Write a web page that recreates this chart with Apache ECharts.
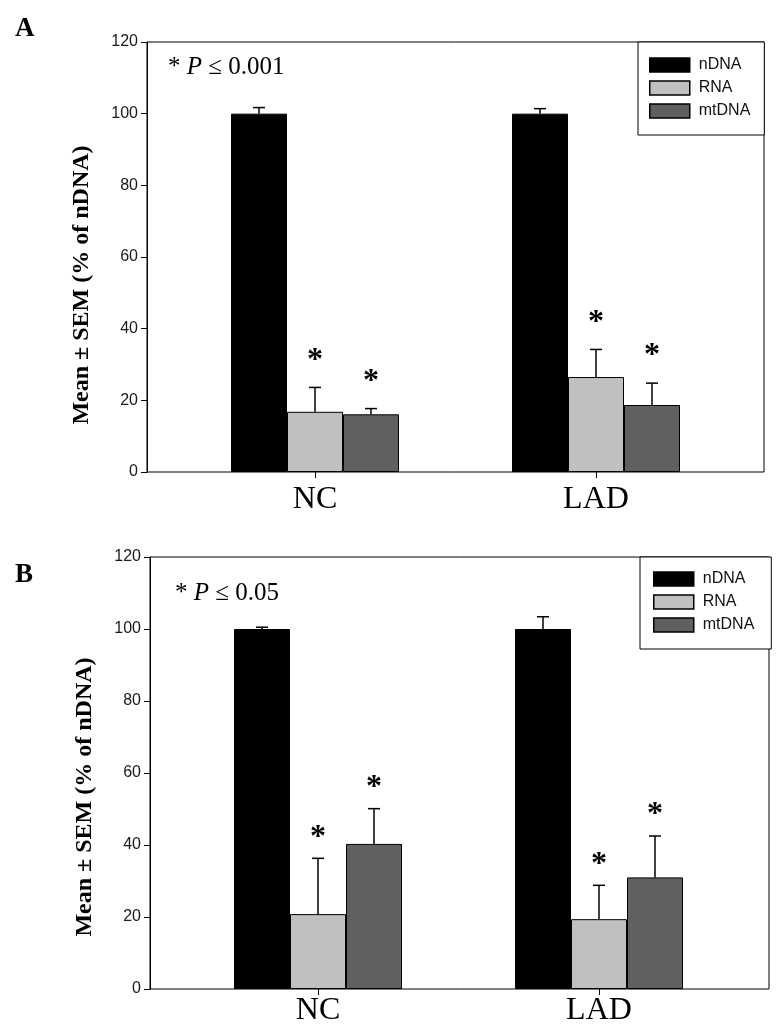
<!DOCTYPE html>
<html>
<head>
<meta charset="utf-8">
<script src="https://cdn.jsdelivr.net/npm/echarts@6/dist/echarts.min.js"></script>
<style>
  html, body { margin: 0; padding: 0; background: #fff; }
  #chart { width: 782px; height: 1033px; }
</style>
</head>
<body>
<div id="chart"></div>
<script>
// ---- data ----
const categories = ['NC', 'LAD'];
const seriesNames = ['nDNA', 'RNA', 'mtDNA'];
const yMin = 0, yMax = 120, yInterval = 20;

// Panel A
const meanA_nDNA = [100, 100];
const errA_nDNA = [1.7, 1.4];
const meanA_RNA = [16.8, 26.5];
const errA_RNA = [6.8, 7.7];
const meanA_mtDNA = [16.1, 18.7];
const errA_mtDNA = [1.6, 6.1];
const sigA = [false, true, true]; // per series: star above bars

// Panel B
const meanB_nDNA = [100, 100];
const errB_nDNA = [0.5, 3.4];
const meanB_RNA = [20.8, 19.4];
const errB_RNA = [15.5, 9.4];
const meanB_mtDNA = [40.3, 31.0];
const errB_mtDNA = [9.8, 11.5];
const sigB = [false, true, true];

const titleA = 'A', titleB = 'B';
const pTextA = '0.001', pTextB = '0.05';
const yAxisTitle = 'Mean \u00B1 SEM (% of nDNA)';

// ---- layout / style ----
const colors = ['#000000', '#c0c0c0', '#606060'];
const BW = 56;
const SERIF = "'Liberation Serif', 'Times New Roman', serif";
const SANS = "'Liberation Sans', Arial, sans-serif";

const panels = [
  {
    means: [meanA_nDNA, meanA_RNA, meanA_mtDNA],
    errs: [errA_nDNA, errA_RNA, errA_mtDNA],
    sig: sigA,
    frame: { left: 147, right: 18, top: 42, height: 430 },
    bars: { left: 174.5, width: 562, top: 42, height: 430 },
    labelMargin: 12, starGap: 32,
    legend: { left: 638, top: 42, padding: [15, 14, 16, 11] },
    title: titleA, titleTop: 16, p: pTextA, pLeft: 168, pTop: 55,
    yLabel: [82, 285]
  },
  {
    means: [meanB_nDNA, meanB_RNA, meanB_mtDNA],
    errs: [errB_nDNA, errB_RNA, errB_mtDNA],
    sig: sigB,
    frame: { left: 150, right: 13, top: 557, height: 432 },
    bars: { left: 177.5, width: 562, top: 557, height: 432 },
    labelMargin: 6, starGap: 26,
    legend: { left: 640, top: 557, padding: [14, 17, 16, 13] },
    title: titleB, titleTop: 562, p: pTextB, pLeft: 175, pTop: 581,
    yLabel: [85, 797]
  }
];

const grid = [], xAxis = [], yAxis = [], series = [], legend = [], title = [], graphic = [];

panels.forEach((P, pi) => {
  const fi = pi * 2, bi = pi * 2 + 1;
  grid.push(Object.assign({ show: true, borderColor: '#000', borderWidth: 1, backgroundColor: 'transparent', containLabel: false, outerBoundsMode: 'none' }, P.frame));
  grid.push(Object.assign({ show: false, containLabel: false, outerBoundsMode: 'none' }, P.bars));
  xAxis.push({ gridIndex: fi, type: 'value', min: 0, max: 1, show: false });
  xAxis.push({
    gridIndex: bi, type: 'category', data: categories,
    axisLine: { show: false },
    axisTick: { show: true, alignWithLabel: true, length: 6, lineStyle: { color: '#000', width: 1 } },
    axisLabel: { fontFamily: SERIF, fontSize: 32, color: '#000', margin: P.labelMargin },
    splitLine: { show: false }
  });
  yAxis.push({
    gridIndex: fi, type: 'value', min: yMin, max: yMax, interval: yInterval,
    axisLine: { show: true, lineStyle: { color: '#000', width: 1 } },
    axisTick: { show: true, inside: false, length: 6, lineStyle: { color: '#000' } },
    axisLabel: { fontFamily: SANS, fontSize: 16, color: '#1a1a1a', margin: 9 },
    splitLine: { show: false }
  });
  yAxis.push({ gridIndex: bi, type: 'value', min: yMin, max: yMax, interval: yInterval, show: false, splitLine: { show: false } });

  const errData = [];
  seriesNames.forEach((name, s) => {
    series.push({
      name: name, type: 'bar', xAxisIndex: bi, yAxisIndex: bi,
      data: P.means[s], barWidth: BW, barGap: '0%',
      itemStyle: { color: colors[s], borderColor: '#000', borderWidth: 1 },
      emphasis: { disabled: true }, animation: false
    });
    categories.forEach((c, ci) => {
      errData.push([ci, P.means[s][ci], P.errs[s][ci], s, P.sig[s] ? 1 : 0]);
    });
  });
  const gap = P.starGap;
  series.push({
    type: 'custom', xAxisIndex: bi, yAxisIndex: bi, data: errData, silent: true, animation: false, z: 10, clip: false,
    renderItem: function (params, api) {
      const c = api.value(0), m = api.value(1), e = api.value(2), s = api.value(3), sg = api.value(4);
      const base = api.coord([c, m]);
      const top = api.coord([c, m + e]);
      const x = base[0] + (s - 1) * BW;
      const children = [
        { type: 'line', shape: { x1: x, y1: base[1], x2: x, y2: top[1] }, style: { stroke: '#000', lineWidth: 1.5 } },
        { type: 'line', shape: { x1: x - 6, y1: top[1], x2: x + 6, y2: top[1] }, style: { stroke: '#000', lineWidth: 1.5 } }
      ];
      if (sg) {
        children.push({ type: 'text', style: { text: '*', x: x, y: top[1] - gap + 5, font: 'bold 32px ' + SERIF, fill: '#000', textAlign: 'center', textVerticalAlign: 'middle' } });
      }
      return { type: 'group', children: children };
    }
  });

  legend.push({
    data: seriesNames, orient: 'vertical', left: P.legend.left, top: P.legend.top,
    padding: P.legend.padding, itemWidth: 40, itemHeight: 14, itemGap: 7,
    borderColor: '#000', borderWidth: 1, backgroundColor: '#fff',
    icon: 'rect', selectedMode: false,
    itemStyle: { borderColor: '#000', borderWidth: 1.5 },
    textStyle: { fontFamily: SANS, fontSize: 16, color: '#111', lineHeight: 14, padding: [0, 0, 0, 4] }
  });

  title.push({ text: P.title, left: 15, top: P.titleTop, padding: 0, textStyle: { fontFamily: SERIF, fontSize: 27, fontWeight: 'bold', color: '#000', lineHeight: 27 } });
  title.push({
    text: '{a|* }{b|P}{a| \u2264 ' + P.p + '}', left: P.pLeft, top: P.pTop, padding: 0,
    textStyle: {
      fontWeight: 'normal',
      rich: {
        a: { fontFamily: SERIF, fontSize: 25, fontWeight: 'normal', color: '#000', lineHeight: 25 },
        b: { fontFamily: SERIF, fontSize: 25, fontWeight: 'normal', fontStyle: 'italic', color: '#000', lineHeight: 25 }
      }
    }
  });
  graphic.push({
    type: 'text', x: P.yLabel[0], y: P.yLabel[1], rotation: Math.PI / 2,
    style: { text: yAxisTitle, font: 'bold 24px ' + SERIF, fill: '#000', textAlign: 'center', textVerticalAlign: 'middle' }
  });
});

const chart = echarts.init(document.getElementById('chart'), null, { renderer: 'canvas' });
chart.setOption({
  backgroundColor: '#fff',
  animation: false,
  title: title,
  legend: legend,
  grid: grid,
  xAxis: xAxis,
  yAxis: yAxis,
  series: series,
  graphic: graphic
});
</script>
</body>
</html>
